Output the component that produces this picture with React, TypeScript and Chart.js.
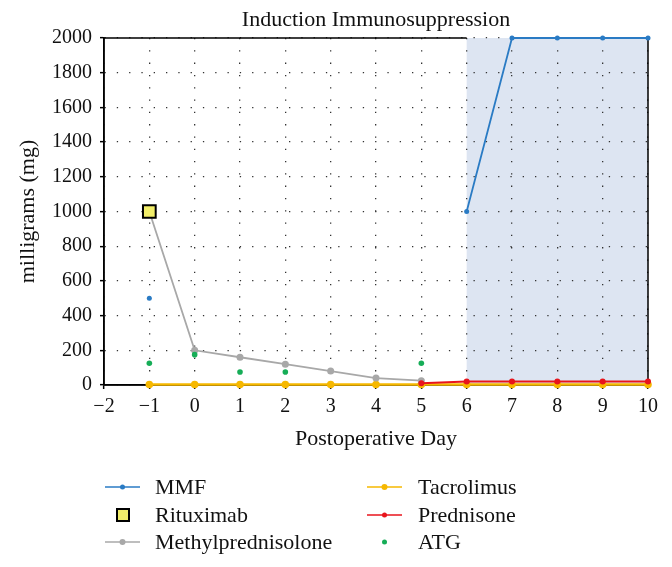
import React, { useEffect, useRef } from "react";
import { Chart, registerables } from "chart.js";

Chart.register(...registerables);

const titleText = "Induction Immunosuppression";
const xTitle = "Postoperative Day";
const yTitle = "milligrams (mg)";

const days = [-1, 0, 1, 2, 3, 4, 5, 6, 7, 8, 9, 10];
const mmf = [500, null, null, null, null, null, null, 1000, 2000, 2000, 2000, 2000];
const rituximab = [1000, null, null, null, null, null, null, null, null, null, null, null];
const methylprednisolone = [1000, 200, 160, 120, 80, 40, 25, null, null, null, null, null];
const tacrolimus = [3, 3, 3, 3, 3, 3, 3, 3, 3, 3, 3, 3];
const prednisone = [null, null, null, null, null, null, 10, 20, 20, 20, 20, 20];
const atg = [125, 175, 75, 75, null, null, 125, null, null, null, null, null];

const xMin = -2;
const xMax = 10;
const yMin = 0;
const yMax = 2000;
const yStep = 200;
const shadeFrom = 6;
const shadeTo = 10;

const FONT = '"Liberation Serif", "DejaVu Serif", serif';

const COLORS = {
  mmf: "#2a7bc4",
  rituximabFill: "#f2ee6a",
  methyl: "#a8a8a8",
  tacro: "#f6b800",
  pred: "#e8141c",
  atg: "#16ad57",
  shade: "#dde5f2",
};

const toPoints = (vals: (number | null)[]) =>
  days.map((d, i) => ({ x: d, y: vals[i] })).filter((p) => p.y !== null);

const legendItems = [
  { label: "MMF", col: 0, row: 0, line: COLORS.mmf, dot: COLORS.mmf, r: 2.5 },
  { label: "Rituximab", col: 0, row: 1, square: true },
  { label: "Methylprednisolone", col: 0, row: 2, line: COLORS.methyl, dot: COLORS.methyl, r: 3 },
  { label: "Tacrolimus", col: 1, row: 0, line: COLORS.tacro, dot: COLORS.tacro, r: 3 },
  { label: "Prednisone", col: 1, row: 1, line: COLORS.pred, dot: COLORS.pred, r: 2.5 },
  { label: "ATG", col: 1, row: 2, line: null, dot: COLORS.atg, r: 2.5 },
];

const decorPlugin = {
  id: "decor",
  beforeDraw(chart: any) {
    const { ctx, scales } = chart;
    const x = scales.x;
    const y = scales.y;
    ctx.save();
    ctx.fillStyle = COLORS.shade;
    const l = x.getPixelForValue(shadeFrom);
    const r = x.getPixelForValue(shadeTo);
    ctx.fillRect(l, y.getPixelForValue(yMax), r - l, y.getPixelForValue(yMin) - y.getPixelForValue(yMax));
    ctx.restore();
  },
  beforeDatasetsDraw(chart: any) {
    const { ctx, chartArea, scales } = chart;
    const x = scales.x;
    ctx.save();
    ctx.setLineDash([]);
    ctx.strokeStyle = "#000";
    ctx.lineWidth = 1.5;
    ctx.beginPath();
    ctx.moveTo(chartArea.left, chartArea.top);
    ctx.lineTo(x.getPixelForValue(shadeFrom), chartArea.top);
    ctx.moveTo(chartArea.right, chartArea.top);
    ctx.lineTo(chartArea.right, chartArea.bottom);
    ctx.moveTo(chartArea.left, chartArea.top);
    ctx.lineTo(chartArea.left, chartArea.bottom);
    ctx.lineTo(chartArea.right, chartArea.bottom);
    ctx.stroke();
    ctx.restore();
  },
  afterDraw(chart: any) {
    const { ctx, chartArea } = chart;
    ctx.save();
    ctx.fillStyle = "#111";
    ctx.font = `22px ${FONT}`;
    ctx.textAlign = "center";
    ctx.textBaseline = "middle";
    ctx.fillText(titleText, (chartArea.left + chartArea.right) / 2, 20);
    const colLine = [105, 367];
    const colText = [155, 418];
    const rowY = [487, 515, 542];
    ctx.textAlign = "left";
    for (const it of legendItems as any[]) {
      const lx = colLine[it.col];
      const cy = rowY[it.row];
      if (it.square) {
        ctx.fillStyle = COLORS.rituximabFill;
        ctx.strokeStyle = "#000";
        ctx.lineWidth = 2;
        ctx.fillRect(lx + 12, cy - 6, 12, 12);
        ctx.strokeRect(lx + 12, cy - 6, 12, 12);
      } else {
        if (it.line) {
          ctx.strokeStyle = it.line;
          ctx.lineWidth = 1.5;
          ctx.beginPath();
          ctx.moveTo(lx, cy);
          ctx.lineTo(lx + 35, cy);
          ctx.stroke();
        }
        ctx.fillStyle = it.dot;
        ctx.beginPath();
        ctx.arc(lx + 17.5, cy, it.r, 0, Math.PI * 2);
        ctx.fill();
      }
      ctx.fillStyle = "#111";
      ctx.fillText(it.label, colText[it.col], cy + 1);
    }
    ctx.restore();
  },
};

const gridOpts = {
  color: "#333",
  lineWidth: 1.3,
  drawTicks: true,
  tickLength: 4,
  tickColor: "#000",
  tickBorderDash: [],
  tickWidth: 1.5,
};
const borderOpts = { display: true, color: "#000", width: 1.5, dash: [1.3, 11] };

export default function App() {
  const ref = useRef<HTMLCanvasElement | null>(null);
  useEffect(() => {
    if (!ref.current) return;
    Chart.defaults.font.family = FONT;
    Chart.defaults.color = "#111";
    const chart = new Chart(ref.current, {
      type: "line",
      data: {
        datasets: [
          {
            label: "ATG",
            data: toPoints(atg),
            showLine: false,
            pointRadius: 2.8,
            pointBackgroundColor: COLORS.atg,
            pointBorderWidth: 0,
            borderColor: COLORS.atg,
            order: 0,
            clip: false,
          },
          {
            label: "Rituximab",
            data: toPoints(rituximab),
            showLine: false,
            pointStyle: "rect",
            pointRadius: 9,
            pointBackgroundColor: COLORS.rituximabFill,
            pointBorderColor: "#000",
            pointBorderWidth: 2,
            order: 1,
            clip: false,
          },
          {
            label: "MMF",
            data: toPoints(mmf),
            borderColor: COLORS.mmf,
            borderWidth: 1.8,
            pointRadius: 2.5,
            pointBackgroundColor: COLORS.mmf,
            pointBorderWidth: 0,
            segment: {
              borderColor: (c: any) => (c.p0.parsed.x === -1 ? "transparent" : COLORS.mmf),
            },
            order: 2,
            clip: false,
          },
          {
            label: "Prednisone",
            data: toPoints(prednisone),
            borderColor: COLORS.pred,
            borderWidth: 2,
            pointRadius: 3,
            pointBackgroundColor: COLORS.pred,
            pointBorderWidth: 0,
            order: 3,
            clip: false,
          },
          {
            label: "Methylprednisolone",
            data: toPoints(methylprednisolone),
            borderColor: COLORS.methyl,
            borderWidth: 1.8,
            pointRadius: 3.5,
            pointBackgroundColor: COLORS.methyl,
            pointBorderWidth: 0,
            order: 4,
            clip: false,
          },
          {
            label: "Tacrolimus",
            data: toPoints(tacrolimus),
            borderColor: COLORS.tacro,
            borderWidth: 2.5,
            pointRadius: 3.8,
            pointBackgroundColor: COLORS.tacro,
            pointBorderWidth: 0,
            order: 5,
            clip: false,
          },
        ],
      },
      options: {
        responsive: false,
        animation: false,
        devicePixelRatio: 1,
        layout: { padding: { top: 38, right: 24, bottom: 107, left: 0 } },
        plugins: {
          legend: { display: false },
          title: { display: false },
          tooltip: { enabled: false },
        },
        scales: {
          x: {
            type: "linear",
            min: xMin,
            max: xMax,
            afterFit: (s: any) => {
              s.height = 75;
            },
            ticks: {
              stepSize: 1,
              color: "#111",
              font: { size: 20, family: FONT },
              padding: 6,
              maxRotation: 0,
              callback: (v: any) => (v < 0 ? "\u2212" + Math.abs(v) : String(v)),
            },
            grid: gridOpts,
            border: borderOpts,
            title: {
              display: true,
              text: xTitle,
              color: "#111",
              font: { size: 22, family: FONT },
              padding: { top: 0, bottom: 8 },
            },
          },
          y: {
            type: "linear",
            min: yMin,
            max: yMax,
            afterFit: (s: any) => {
              s.width = 104;
            },
            ticks: {
              stepSize: yStep,
              color: "#111",
              font: { size: 20, family: FONT },
              padding: 8,
              callback: (v: any) => String(v),
            },
            grid: gridOpts,
            border: borderOpts,
            title: {
              display: true,
              text: yTitle,
              color: "#111",
              font: { size: 22, family: FONT },
              padding: { top: 15, bottom: 0 },
            },
          },
        },
      } as any,
      plugins: [decorPlugin],
    });
    return () => chart.destroy();
  }, []);
  return (
    <div style={{ position: "absolute", left: 0, top: 0, width: 672, height: 567 }}>
      <canvas ref={ref} width={672} height={567} style={{ width: 672, height: 567 }} />
    </div>
  );
}
